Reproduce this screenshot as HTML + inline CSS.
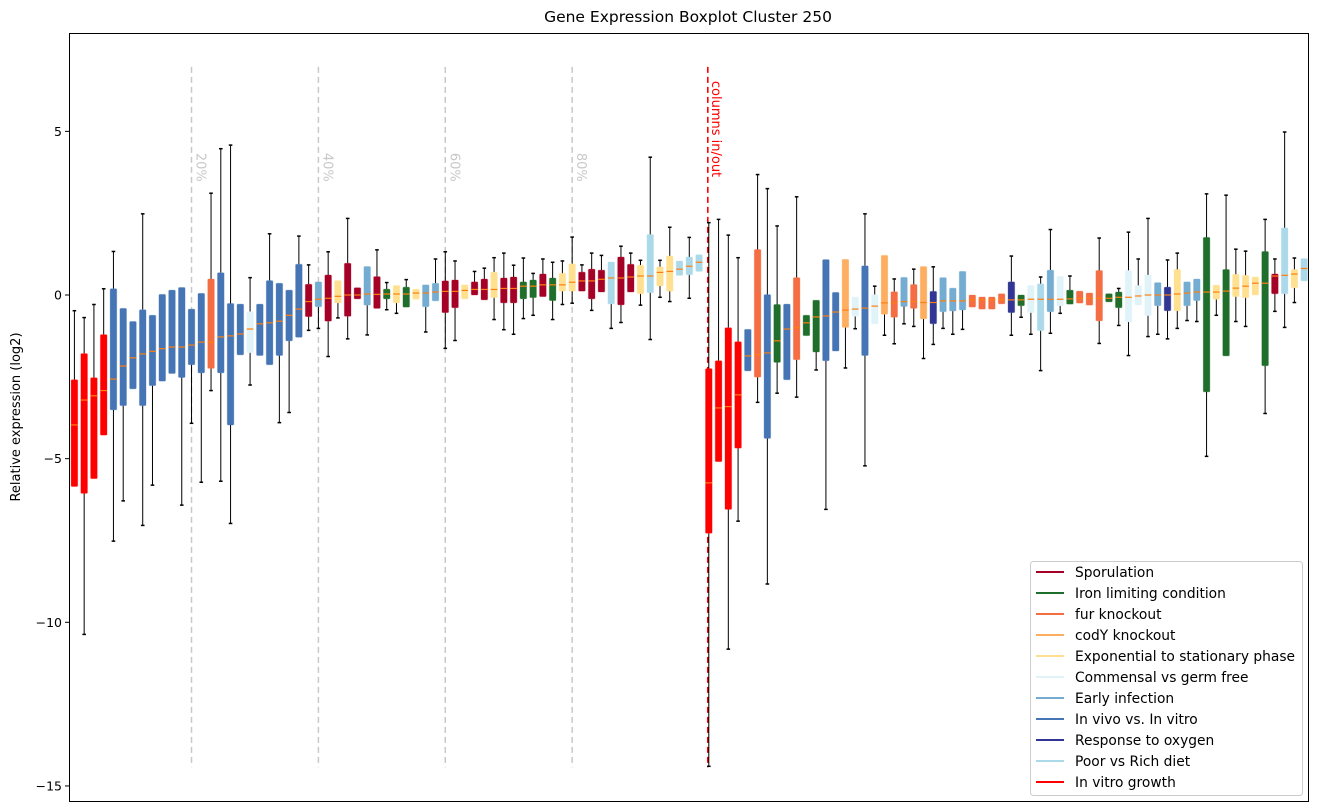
<!DOCTYPE html>
<html><head><meta charset="utf-8"><style>
body{margin:0;background:#fff;font-family:"DejaVu Sans","Liberation Sans",sans-serif}
svg{display:block}
</style></head><body>
<svg id="chart" width="1318" height="812" xmlns="http://www.w3.org/2000/svg" font-family="DejaVu Sans, Liberation Sans, sans-serif">
<text x="688" y="22" font-size="15.5" text-anchor="middle">Gene Expression Boxplot Cluster 250</text>
<text transform="translate(20,417) rotate(-90)" font-size="13" text-anchor="middle">Relative expression (log2)</text>
<g id="marks"></g>
<rect x="69.5" y="33.5" width="1239" height="768" fill="none" stroke="#000" stroke-width="1"/>
<g id="yaxis"></g>
<g id="legend"></g>
</svg>
<script>
const groupNames=["Sporulation","Iron limiting condition","fur knockout","codY knockout","Exponential to stationary phase","Commensal vs germ free","Early infection","In vivo vs. In vitro","Response to oxygen","Poor vs Rich diet","In vitro growth"];
const groupColors=["#a50026","#1f6e2b","#f46d43","#fdae61","#fee090","#e0f3f8","#74add1","#4575b4","#313695","#abd9e9","#ff0000"];
const groupKeys="SGFDYCEBOPR";
const boxGroups="RRRRBBBBBBBBBBFBBBCBBBBBSESYSSESGYGYEESSYSSYSSGGSGYYSSSPSSYPYYPPPRRRRBFBGBFGGBBDCBCDFEFDOEEEFFFFOGCPECGFFFGGCCCEOYEEGYGYYYGSPYP";
const whiskerLow=[-5.85,-10.37,-5.61,-4.28,-7.52,-6.29,-2.87,-7.04,-5.81,-2.63,-2.4,-6.42,-3.92,-5.72,-2.92,-5.69,-6.98,-1.83,-2.75,-1.85,-2.13,-3.9,-3.59,-1.29,-1.08,-1.02,-1.88,-0.7,-1.34,-0.12,-1.22,-0.41,-0.45,-0.56,-0.37,-0.13,-1.13,-0.18,-1.63,-1.39,-0.12,0,-0.15,-0.75,-1.06,-1.2,-0.72,-0.62,-0.05,-0.75,-0.29,-0.25,0.12,-0.47,0.09,-1.02,-0.84,0.09,-0.31,-1.36,-0.07,-0.2,0.6,-0.1,0.72,-14.4,-5.09,-10.82,-6.91,-2.32,-3.28,-8.83,-3.0,-2.59,-3.12,-1.24,-2.29,-6.55,-1.71,-2.23,-1.03,-5.22,-0.88,-1.23,-1.49,-0.88,-0.96,-1.94,-1.51,-1.02,-1.2,-1.05,-0.37,-0.43,-0.43,-0.27,-1.23,-0.68,-1.2,-2.31,-1.17,-0.56,-0.28,-0.25,-0.31,-1.48,-0.21,-0.93,-1.85,-0.31,-1.27,-1.2,-1.34,-1.02,-0.78,-0.81,-4.93,-0.62,-1.86,-0.81,-0.96,0,-3.62,-0.5,-0.99,-0.23,0.43];
const quartile1=[-5.85,-6.06,-5.61,-4.28,-3.51,-3.38,-2.87,-3.38,-2.77,-2.63,-2.4,-2.52,-2.13,-2.38,-2.24,-2.38,-3.97,-1.83,-1.76,-1.85,-2.13,-1.85,-1.4,-1.29,-0.66,-0.36,-0.8,-0.24,-0.65,-0.12,-0.31,-0.41,-0.12,-0.24,-0.37,-0.13,-0.36,-0.18,-0.54,-0.39,-0.12,0,-0.15,-0.08,-0.24,-0.24,-0.12,-0.08,-0.05,-0.17,0.12,0.12,0.12,-0.12,0.09,-0.27,-0.3,0.09,0.04,0.07,0.28,0.12,0.6,0.62,0.72,-7.28,-5.09,-6.55,-4.68,-2.32,-2.51,-4.38,-2.06,-2.59,-1.98,-1.24,-1.74,-2.01,-1.71,-0.99,-0.65,-1.85,-0.88,-0.59,-0.68,-0.35,-0.41,-0.73,-0.88,-0.51,-0.49,-0.46,-0.37,-0.43,-0.43,-0.27,-0.54,-0.33,-0.54,-1.09,-0.51,-0.33,-0.28,-0.25,-0.31,-0.79,-0.21,-0.39,-0.82,-0.31,-0.63,-0.33,-0.48,-0.48,-0.33,-0.17,-2.96,-0.13,-1.86,-0.05,-0.08,0,-2.16,0.04,0.04,0.22,0.43];
const medians=[-3.97,-3.21,-3.08,-2.92,-2.57,-2.17,-1.92,-1.8,-1.72,-1.64,-1.59,-1.59,-1.53,-1.44,-1.44,-1.28,-1.25,-1.19,-1.04,-0.88,-0.85,-0.8,-0.62,-0.43,-0.2,-0.13,-0.1,-0.04,0,0,0.03,0.02,0.03,0.03,0.03,0.06,0.06,0.09,0.11,0.11,0.14,0.17,0.17,0.17,0.2,0.2,0.27,0.27,0.31,0.31,0.31,0.39,0.43,0.43,0.48,0.52,0.52,0.55,0.58,0.58,0.69,0.72,0.79,0.88,1.0,-5.74,-3.45,-3.41,-3.05,-1.86,-1.82,-1.77,-1.4,-1.04,-1.0,-0.85,-0.67,-0.64,-0.52,-0.46,-0.43,-0.4,-0.34,-0.24,-0.24,-0.2,-0.2,-0.23,-0.23,-0.18,-0.18,-0.18,-0.15,-0.15,-0.15,-0.15,-0.15,-0.15,-0.13,-0.13,-0.13,-0.13,-0.12,-0.1,-0.1,-0.1,-0.1,-0.07,-0.07,-0.03,0,0,0,0.03,0.06,0.09,0.09,0.09,0.12,0.21,0.27,0.36,0.36,0.58,0.6,0.64,0.81];
const quartile3=[-2.59,-1.79,-2.53,-1.21,0.19,-0.41,-0.81,-0.45,-0.62,0.02,0.15,0.23,-0.43,0.05,0.49,0.68,-0.26,-0.28,-0.51,-0.28,0.44,0.36,0.15,0.94,0.33,0.4,0.61,0.44,0.97,0.22,0.87,0.56,0.18,0.29,0.24,0.18,0.31,0.36,0.43,0.46,0.31,0.4,0.49,0.7,0.52,0.55,0.4,0.46,0.64,0.52,0.66,0.95,0.7,0.79,0.76,1.01,1.16,0.94,0.91,1.85,0.86,1.19,1.04,1.16,1.23,-2.25,-2.01,-1.0,-1.43,-1.05,1.39,0.01,-0.29,-0.28,0.53,-0.62,-0.16,1.08,0.08,1.09,-0.06,0.89,0.01,1.21,0.1,0.54,0.32,0.87,0.11,0.53,0.21,0.72,0,-0.06,-0.06,0.04,0.4,0,0.29,0.34,0.76,0.57,0.15,0.12,0.06,0.75,0.04,0.09,0.75,0.29,0.61,0.38,0.24,0.78,0.4,0.49,1.76,0.3,0.78,0.63,0.6,0.55,1.33,0.64,2.05,0.78,1.11];
const whiskerHigh=[-0.48,-0.69,-0.29,0.19,1.33,-0.41,-0.81,2.48,-0.62,0.02,0.15,0.23,-0.43,0.05,3.11,4.47,4.58,-0.28,0.53,-0.28,1.87,0.36,0.15,1.8,0.92,0.4,1.32,0.44,2.34,0.22,0.87,1.38,0.38,0.29,0.47,0.18,0.31,1.1,1.32,1.04,0.31,0.72,0.82,1.14,1.28,0.91,1.13,0.66,1.1,1.0,1.04,1.77,0.92,1.28,1.21,1.01,1.49,1.28,1.06,4.21,1.06,2.07,1.04,1.76,1.23,2.21,2.31,1.83,1.14,-1.05,3.68,3.25,2.11,-0.28,3.0,-0.62,-0.16,1.08,0.08,1.09,-0.06,2.48,0.27,1.21,0.49,0.54,0.79,0.87,0.86,0.53,0.21,0.72,0,-0.06,-0.06,0.04,1.19,0,0.29,0.55,2.0,0.57,0.58,0.12,0.06,1.74,0.04,0.2,1.92,1.1,2.34,0.38,1.07,1.28,0.4,0.49,3.09,0.3,3.05,1.4,1.34,0.55,2.31,1.1,4.98,1.13,1.11];
const yTicks=[5,0,-5,-10,-15];
const pctLines=[12,25,38,51];
const pctLabels=["20%","40%","60%","80%"];
const splitIndex=65;

const NS="http://www.w3.org/2000/svg";
function xScale(i){return 74.4+i*9.76;}
function yScale(v){return 295-v*32.73;}
function mk(tag,attrs,parent){const e=document.createElementNS(NS,tag);for(const k in attrs)e.setAttribute(k,attrs[k]);parent.appendChild(e);return e;}
const marks=document.getElementById('marks');
pctLines.forEach((p,k)=>{
  const l=mk('line',{x1:xScale(p),x2:xScale(p),y1:yScale(6.97),y2:yScale(-14.43),stroke:'#c8c8c8','stroke-width':1.5,'stroke-dasharray':'6,4'},marks);
  
  
  const t=mk('text',{transform:`translate(${xScale(p)+5},${yScale(6.97)+86}) rotate(90)`,fill:'#c8c8c8','font-size':13},marks);
  t.textContent=pctLabels[k];
  
  
});
const xs=xScale(splitIndex)-1;
const rl=mk('line',{x1:xs,x2:xs,y1:yScale(6.97),y2:yScale(-14.43),stroke:'#ff0000','stroke-width':1.6,'stroke-dasharray':'6,4'},marks);


const rt=mk('text',{transform:`translate(${xs+4},${yScale(6.97)+14}) rotate(90)`,fill:'#ff0000','font-size':13},marks);
rt.textContent='columns in/out';


for(let i=0;i<medians.length;i++){
  const g=mk('g',{},marks);
  
  
  const cx=xScale(i),col=groupColors[groupKeys.indexOf(boxGroups[i])];
  const yq1=yScale(quartile1[i]),yq3=yScale(quartile3[i]);
  if(whiskerHigh[i]>quartile3[i]){
    mk('line',{x1:cx,x2:cx,y1:yq3,y2:yScale(whiskerHigh[i]),stroke:'#000','stroke-width':1},g);
    mk('line',{x1:cx-1.8,x2:cx+1.8,y1:yScale(whiskerHigh[i]),y2:yScale(whiskerHigh[i]),stroke:'#000','stroke-width':1.5},g);
  }
  if(whiskerLow[i]<quartile1[i]){
    mk('line',{x1:cx,x2:cx,y1:yq1,y2:yScale(whiskerLow[i]),stroke:'#000','stroke-width':1},g);
    mk('line',{x1:cx-1.8,x2:cx+1.8,y1:yScale(whiskerLow[i]),y2:yScale(whiskerLow[i]),stroke:'#000','stroke-width':1.5},g);
  }
  mk('rect',{x:cx-3.3,y:yq3,width:6.6,height:Math.max(1,yq1-yq3),rx:1,fill:col,stroke:col,'stroke-opacity':0.3,'stroke-width':1},g);
  mk('line',{x1:cx-3.3,x2:cx+3.3,y1:yScale(medians[i]),y2:yScale(medians[i]),stroke:'#ff7f0e','stroke-width':1.2},g);
}
const ya=document.getElementById('yaxis');


yTicks.forEach(v=>{
  const y=yScale(v);
  mk('line',{x1:65,x2:69.5,y1:y,y2:y,stroke:'#000'},ya);
  const t=mk('text',{x:62,y:y+4.5,'font-size':12.5,'text-anchor':'end'},ya);
  t.textContent=v<0?'\u2212'+Math.abs(v):String(v);
  
  
});
const lg=document.getElementById('legend');
mk('rect',{x:1030.5,y:561.5,width:272,height:234,rx:3,fill:'#fff','fill-opacity':0.85,stroke:'#ccc'},lg);
groupNames.forEach((n,k)=>{
  const y=572+k*21;
  const e=mk('g',{},lg);
  
  
  mk('line',{x1:1036,x2:1064,y1:y,y2:y,stroke:groupColors[k],'stroke-width':2},e);
  const t=mk('text',{x:1075,y:y+4.8,'font-size':13.8},e);
  t.textContent=n;
});
</script>
</body></html>
